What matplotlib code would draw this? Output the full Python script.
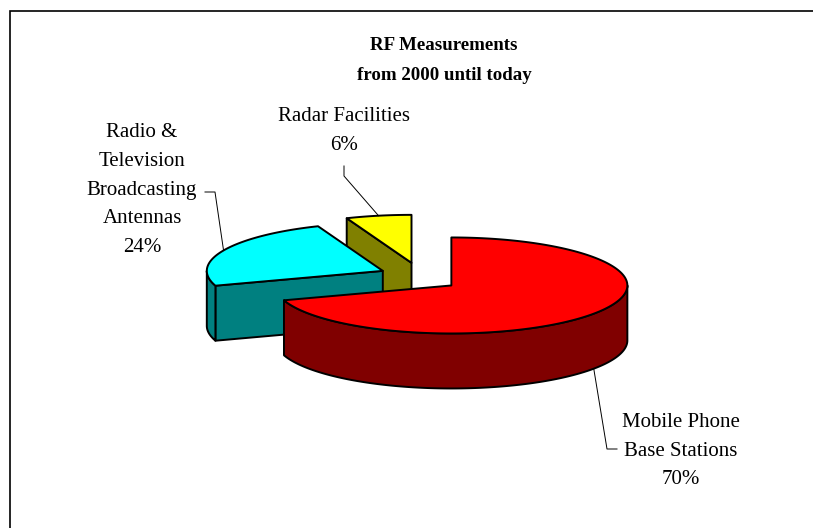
import numpy as np
import matplotlib.pyplot as plt
from matplotlib.patches import Polygon, Rectangle

# data
sources = ["Mobile Phone\nBase Stations",
           "Radio &\nTelevision\nBroadcasting\nAntennas",
           "Radar Facilities"]
shares = [70, 24, 6]
top_colors = ["#ff0000", "#00ffff", "#ffff00"]
side_colors = ["#800000", "#008080", "#808000"]

W, H = 813, 528
CX, CY = 419, 277      # pie centre (pixels)
R = 176.0              # radius in pixels
TILT = 48 / 176.0      # vertical squash of the disc
DEPTH = 55 / 176.0
EXPLODE = 40 / 176.0
EXPLODE_TILT = 0.36

plt.rcParams['font.family'] = ['Liberation Serif', 'DejaVu Serif']


def px(x, y):
    # pixel position -> pie units
    return (x - CX) / R, (CY - y) / R


def rim(off, t, z=0.0):
    t = np.radians(t)
    return off[0] + np.cos(t), off[1] + TILT * np.sin(t) - z


def arc(off, t0, t1, z=0.0):
    ts = np.linspace(t0, t1, max(int(abs(t1 - t0)), 2) + 1)
    return [rim(off, t, z) for t in ts]


fig = plt.figure(figsize=(W / 100, H / 100), dpi=100)
ax = fig.add_axes([0, 0, 1, 1])
ax.set_xlim(px(0, 0)[0], px(W, 0)[0])
ax.set_ylim(px(0, H)[1], px(0, 0)[1])
ax.axis('off')

# chart border (runs off the right and bottom of the picture)
fig.add_artist(Rectangle((10 / W, -0.1), 1.2, 1.1 - 11 / H, transform=fig.transFigure,
                         fill=False, ec='black', lw=1.2))

total = float(sum(shares))
slices = []
cum = 0.0
for i, v in enumerate(shares):
    cum += v
    a0 = (90 - cum / total * 360) % 360
    a1 = a0 + v / total * 360
    mid = (a0 + a1) / 2
    off = (EXPLODE * np.cos(np.radians(mid)), EXPLODE * EXPLODE_TILT * np.sin(np.radians(mid)))
    slices.append(dict(i=i, a0=a0, a1=a1, mid=mid, off=off))

edge = dict(ec='black', lw=1.4, joinstyle='round')
# paint back slices first
for s in sorted(slices, key=lambda s: -np.sin(np.radians(s['mid']))):
    i, a0, a1, off = s['i'], s['a0'], s['a1'], s['off']
    v0 = (off[0], off[1])
    v1 = (off[0], off[1] - DEPTH)
    # radial cut faces that face the viewer
    for a, vis in ((a0, np.cos(np.radians(a0)) > 1e-6), (a1, np.cos(np.radians(a1)) < -1e-6)):
        if vis:
            ax.add_patch(Polygon([v0, rim(off, a), rim(off, a, DEPTH), v1],
                                 fc=side_colors[i], **edge))
    # outer wall, front half only
    for lo, hi in ((180, 360), (540, 720)):
        s0, s1 = max(a0, lo), min(a1, hi)
        if s1 > s0:
            pts = arc(off, s0, s1) + arc(off, s1, s0, DEPTH)
            ax.add_patch(Polygon(pts, fc=side_colors[i], **edge))
    # top face
    ax.add_patch(Polygon([v0] + arc(off, a0, a1), fc=top_colors[i], **edge))

# labels with leader lines
label_pos = [(681, 451), (142, 190), (344, 131)]
elbows = [[(607, 449), (617, 449)], [(215, 192), (205, 192)], [(344, 176), (344, 166)]]
for s in slices:
    i = s['i']
    pct = round(shares[i] / total * 100)
    ax.text(*px(*label_pos[i]), f"{sources[i]}\n{pct}%", ha='center', va='center',
            fontsize=15, linespacing=1.68)
    if i == 0:
        anchor = rim(s['off'], s['mid'] + 360, DEPTH)
    else:
        anchor = rim(s['off'], s['mid'])
    pts = [anchor] + [px(*p) for p in elbows[i]]
    ax.plot([p[0] for p in pts], [p[1] for p in pts], color='black', lw=0.7)

ax.text(*px(444, 60), "RF Measurements\nfrom 2000 until today", ha='center', va='center',
        fontsize=13.6, fontweight='bold', linespacing=2.0)

fig.savefig("out.png", dpi=100)
